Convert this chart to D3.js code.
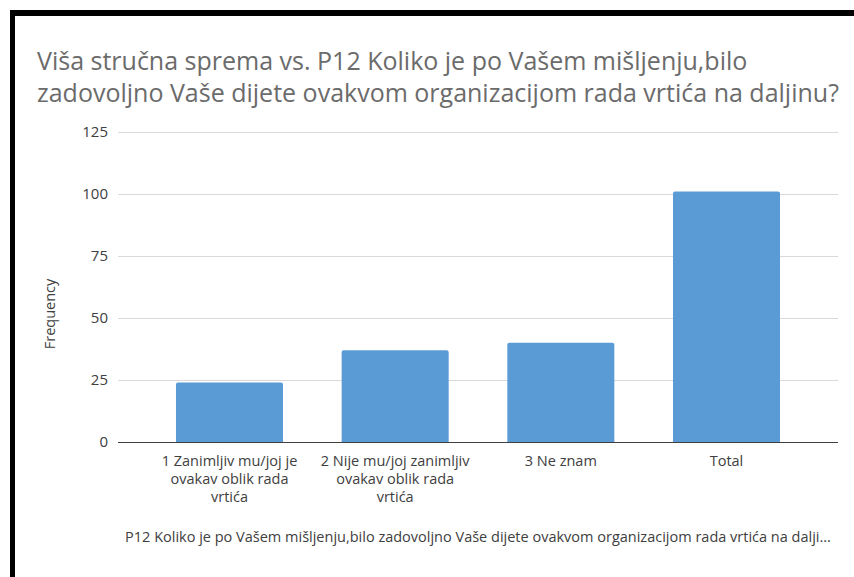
<!DOCTYPE html>
<meta charset="utf-8">
<script src="https://d3js.org/d3.v7.min.js"></script>
<style>
    body {
        margin: 0;
        padding: 0;
        background: #fff;
    }

    svg text {
        font-family: 'Open Sans', sans-serif;
    }
</style>

<body>
    <svg width="854" height="577"></svg>
    <script>

        // datos del grafico
        var titleLines = ["Viša stručna sprema vs. P12 Koliko je po Vašem mišljenju,bilo",
            "zadovoljno Vaše dijete ovakvom organizacijom rada vrtića na daljinu?"];
        var categories = ["1 Zanimljiv mu/joj je ovakav oblik rada vrtića",
            "2 Nije mu/joj zanimljiv ovakav oblik rada vrtića",
            "3 Ne znam",
            "Total"];
        // etiquetas partidas en lineas como en el original
        var categoryLines = [["1 Zanimljiv mu/joj je", "ovakav oblik rada", "vrtića"],
        ["2 Nije mu/joj zanimljiv", "ovakav oblik rada", "vrtića"],
        ["3 Ne znam"],
        ["Total"]];
        var frequency = [24, 37, 40, 101];
        var yTicks = [0, 25, 50, 75, 100, 125];
        var yTitle = "Frequency";
        var xTitle = "P12 Koliko je po Vašem mišljenju,bilo zadovoljno Vaše dijete ovakvom organizacijom rada vrtića na dalji...";

        var svg = d3.select("svg");

        // marco negro (arriba e izquierda)
        svg.append("rect").attr("x", 10).attr("y", 10).attr("width", 844).attr("height", 6).attr("fill", "#000");
        svg.append("rect").attr("x", 10).attr("y", 10).attr("width", 5).attr("height", 567).attr("fill", "#000");

        // titulo
        svg.append("g")
            .selectAll("text")
            .data(titleLines)
            .enter()
            .append("text")
            .attr("x", 37)
            .attr("y", function (d, i) { return 70 + i * 32; })
            .attr("fill", "#6b6b6b")
            .style("font-size", "25px")
            .text(function (d) { return d; });

        // escalas
        var x = d3.scaleBand()
            .domain(categories)
            .range([118, 838])
            .paddingInner(0.354)
            .paddingOuter(0.35);

        var y = d3.scaleLinear()
            .domain([0, 125])
            .range([442, 132]);

        // lineas de la cuadricula
        svg.append("g")
            .selectAll("line")
            .data(yTicks.filter(function (d) { return d > 0; }))
            .enter()
            .append("line")
            .attr("x1", 118)
            .attr("x2", 838)
            .attr("y1", function (d) { return y(d) + 0.5; })
            .attr("y2", function (d) { return y(d) + 0.5; })
            .attr("stroke", "#d9d9d9")
            .attr("stroke-width", 1);

        // eje y
        var yAxis = svg.append("g")
            .attr("transform", "translate(118,0)")
            .call(d3.axisLeft(y).tickValues(yTicks).tickSize(0).tickPadding(10));
        yAxis.select(".domain").remove();
        yAxis.selectAll("text")
            .attr("fill", "#404040")
            .style("font-size", "15px");

        // barras con esquinas superiores redondeadas
        svg.append("g")
            .selectAll("path")
            .data(frequency)
            .enter()
            .append("path")
            .attr("fill", "#5b9bd5")
            .attr("d", function (d, i) {
                var x0 = x(categories[i]), w = x.bandwidth(), y0 = y(d), y1 = y(0), r = 2;
                return "M" + x0 + "," + y1 + "V" + (y0 + r) + "Q" + x0 + "," + y0 + " " + (x0 + r) + "," + y0 +
                    "H" + (x0 + w - r) + "Q" + (x0 + w) + "," + y0 + " " + (x0 + w) + "," + (y0 + r) + "V" + y1 + "Z";
            });

        // linea del cero
        svg.append("line")
            .attr("x1", 118)
            .attr("x2", 838)
            .attr("y1", y(0) + 0.5)
            .attr("y2", y(0) + 0.5)
            .attr("stroke", "#404040")
            .attr("stroke-width", 1);

        // etiquetas del eje x
        var labels = svg.append("g")
            .selectAll("text")
            .data(categories)
            .enter()
            .append("text")
            .attr("text-anchor", "middle")
            .attr("fill", "#404040")
            .style("font-size", "14.5px")
            .attr("x", function (d) { return x(d) + x.bandwidth() / 2; })
            .attr("y", 466);
        labels.selectAll("tspan")
            .data(function (d, i) { return categoryLines[i]; })
            .enter()
            .append("tspan")
            .attr("x", function () { return d3.select(this.parentNode).attr("x"); })
            .attr("dy", function (d, i) { return i === 0 ? 0 : 18; })
            .text(function (d) { return d; });

        // titulo eje y
        svg.append("text")
            .attr("transform", "translate(55,314) rotate(-90)")
            .attr("text-anchor", "middle")
            .attr("fill", "#404040")
            .style("font-size", "14.5px")
            .text(yTitle);

        // titulo eje x
        svg.append("text")
            .attr("x", 478)
            .attr("y", 542)
            .attr("text-anchor", "middle")
            .attr("fill", "#404040")
            .style("font-size", "14.5px")
            .text(xTitle);
    </script>
</body>
